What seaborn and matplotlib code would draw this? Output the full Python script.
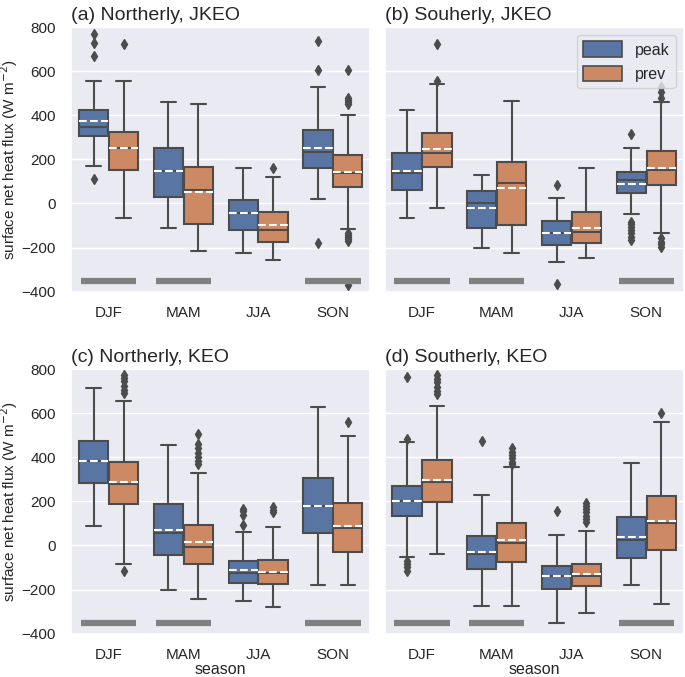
import matplotlib
matplotlib.use("Agg")
import matplotlib.pyplot as plt
from matplotlib.patches import Patch
import seaborn as sns

# --- DATA ---
SEASONS = ["DJF", "MAM", "JJA", "SON"]
HUES = ["peak", "prev"]
TITLES = ["(a) Northerly, JKEO", "(b) Souherly, JKEO",
          "(c) Northerly, KEO", "(d) Southerly, KEO"]

# per season: whislo, q1, median, q3, whishi, mean
a_peak = [[168, 306, 348, 424, 554, 373], [-112, 30, 147, 250, 461, 147],
          [-225, -120, -44, 15, 162, -44], [21, 159, 232, 334, 527, 251]]
a_prev = [[-67, 153, 250, 325, 554, 250], [-218, -94, 61, 167, 449, 51],
          [-257, -174, -121, -41, 120, -97], [-117, 75, 138, 218, 402, 141]]
b_peak = [[-67, 60, 140, 227, 423, 147], [-204, -111, 1, 58, 129, -19],
          [-266, -190, -135, -80, 24, -135], [-46, 48, 107, 141, 251, 90]]
b_prev = [[-19, 167, 227, 321, 542, 247], [-227, -97, 93, 186, 464, 72],
          [-249, -181, -130, -41, 162, -110], [-136, 85, 152, 238, 458, 162]]
c_peak = [[90, 283, 382, 473, 715, 382], [-200, -41, 57, 186, 457, 72],
          [-252, -168, -123, -69, 60, -111], [-178, 57, 178, 305, 630, 181]]
c_prev = [[-85, 187, 278, 378, 656, 290], [-241, -85, -8, 93, 331, 15],
          [-280, -176, -123, -64, 86, -120], [-180, -29, 78, 193, 496, 89]]
d_peak = [[-52, 133, 204, 269, 470, 204], [-276, -108, -37, 42, 228, -29],
          [-350, -199, -138, -91, 49, -138], [-181, -56, 25, 130, 373, 39]]
d_prev = [[-40, 199, 289, 390, 634, 299], [-276, -73, 13, 104, 354, 24],
          [-305, -185, -140, -82, 67, -131], [-267, -20, 101, 223, 562, 111]]

a_peak_fl = [[768, 728, 667, 110], [], [], [735, 606, -181]]
a_prev_fl = [[723], [], [162],
             [607, 479, 469, 459, 449, -132, -145, -154, -162, -169, -370]]
b_peak_fl = [[], [], [84, -365], [315, -83, -95, -107, -120, -135, -150, -165]]
b_prev_fl = [[723, 557], [], [], [530, 505, 480, -159, -175, -185, -199]]
c_peak_fl = [[], [], [167, 155, 140, 95], []]
c_prev_fl = [[772, 760, 745, 725, 705, 690, -115],
             [508, 460, 440, 420, 400, 385, 370], [175, 163, 150], [562]]
d_peak_fl = [[764, 485, -70, -85, -98, -115], [475], [158], []]
d_prev_fl = [[772, 755, 740, 720, 700, 685], [440, 425, 410, 395, 380, 370],
             [195, 180, 165, 150, 135, 120, 105], [602]]

# significance bars drawn at the bottom of each panel
a_sig = [True, True, False, True]
b_sig = [True, True, False, True]
c_sig = [True, True, False, True]
d_sig = [True, True, False, True]
SIG_LEVEL = -350

PANELS = [
    (a_peak, a_prev, a_peak_fl, a_prev_fl, a_sig),
    (b_peak, b_prev, b_peak_fl, b_prev_fl, b_sig),
    (c_peak, c_prev, c_peak_fl, c_prev_fl, c_sig),
    (d_peak, d_prev, d_peak_fl, d_prev_fl, d_sig),
]


def to_stats(rows, fliers):
    out = []
    for r, fl in zip(rows, fliers):
        out.append({"whislo": r[0], "q1": r[1], "med": r[2], "q3": r[3],
                    "whishi": r[4], "mean": r[5], "fliers": fl})
    return out


def main():
    sns.set_theme(style="darkgrid")
    plt.rcParams["font.family"] = ["Liberation Sans", "DejaVu Sans"]

    pal = [sns.desaturate(c, 0.75) for c in sns.color_palette("deep", 2)]
    gray = "#4c4c4c"

    fig, axes = plt.subplots(2, 2, figsize=(6.85, 6.77), dpi=100, sharey=True)
    fig.subplots_adjust(left=0.104, right=0.998, bottom=0.064, top=0.96,
                        wspace=0.048, hspace=0.293)

    for i, (ax, (pk, pv, pk_fl, pv_fl, sig)) in enumerate(zip(axes.flat, PANELS)):
        for j, (rows, fl) in enumerate([(pk, pk_fl), (pv, pv_fl)]):
            pos = [k - 0.2 + 0.4 * j for k in range(len(SEASONS))]
            ax.bxp(to_stats(rows, fl), positions=pos, widths=0.392,
                   patch_artist=True, showmeans=True, meanline=True,
                   boxprops=dict(facecolor=pal[j], edgecolor=gray, linewidth=1.5),
                   medianprops=dict(color=gray, linewidth=1.5),
                   whiskerprops=dict(color=gray, linewidth=1.5),
                   capprops=dict(color=gray, linewidth=1.5),
                   meanprops=dict(color="white", linestyle="--", linewidth=1.5),
                   flierprops=dict(marker="d", markerfacecolor=gray,
                                   markeredgecolor=gray, markersize=5),
                   manage_ticks=False)

        for k, s in enumerate(sig):
            if s:
                ax.plot([k - 0.37, k + 0.37], [SIG_LEVEL, SIG_LEVEL],
                        color="gray", linewidth=4.5, solid_capstyle="butt")

        ax.set_xlim(-0.5, len(SEASONS) - 0.5)
        ax.set_ylim(-400, 800)
        ax.set_xticks(range(len(SEASONS)))
        ax.set_xticklabels(SEASONS)
        ax.set_yticks([-400, -200, 0, 200, 400, 600, 800])
        ax.xaxis.grid(False)
        ax.tick_params(axis="x", labelsize=11, pad=4)
        ax.tick_params(axis="y", labelsize=11, pad=5)
        ax.set_title(TITLES[i], loc="left", fontsize=14, pad=5)
        if i % 2 == 0:
            ax.set_ylabel("surface net heat flux (W m$^{-2}$)", fontsize=11,
                          labelpad=1)
        if i >= 2:
            ax.set_xlabel("season", fontsize=11.5, labelpad=0.5)

    handles = [Patch(facecolor=pal[j], edgecolor=gray, linewidth=1.2, label=h)
               for j, h in enumerate(HUES)]
    axes[0, 1].legend(handles=handles, loc="upper right", fontsize=11.5,
                      handlelength=2.4, handleheight=1.1)

    plt.savefig("out.png", dpi=100)


if __name__ == "__main__":
    main()
